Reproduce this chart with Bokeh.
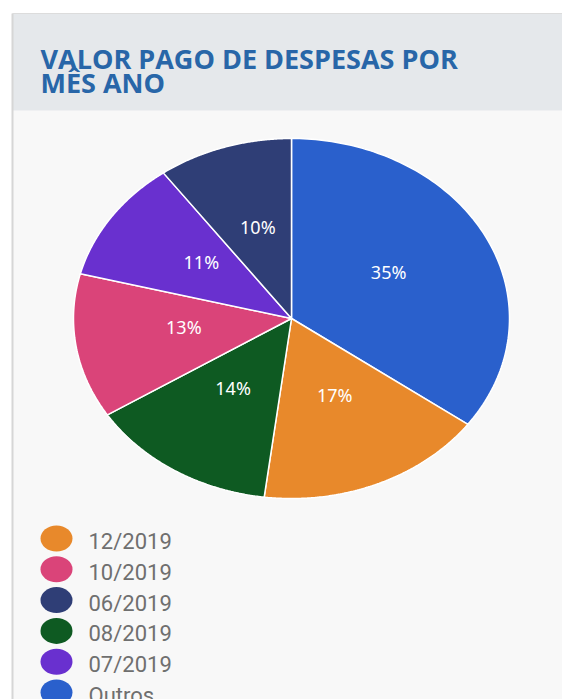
import numpy as np
from bokeh.plotting import figure
from bokeh.models import ColumnDataSource, Range1d
from bokeh.core.properties import value
from bokeh.embed import file_html
from bokeh.resources import INLINE

# ---- data ----
slice_labels = ["Outros", "12/2019", "08/2019", "10/2019", "07/2019", "06/2019"]
slice_values = [35, 17, 14, 13, 11, 10]
slice_colors = ["#2a60cc", "#e8892b", "#0e5a22", "#da4479", "#6930cf", "#2f3e76"]

legend_labels = ["12/2019", "10/2019", "06/2019", "08/2019", "07/2019", "Outros"]

title_lines = ["VALOR PAGO DE DESPESAS POR", "MÊS ANO"]

# ---- layout (screen-pixel coordinates, y downward) ----
W, H = 562, 699
p = figure(width=W, height=H, output_backend="svg", toolbar_location=None,
           x_range=Range1d(0, W), y_range=Range1d(H, 0),
           min_border=0, outline_line_color=None, background_fill_color="white",
           border_fill_color="white")
p.axis.visible = False
p.grid.visible = False

# card panel + header
p.quad(left=[12], right=[W], top=[13], bottom=[H], fill_color="#f8f8f8", line_color=None)
p.quad(left=[12], right=[W], top=[13], bottom=[110], fill_color="#e5e8eb", line_color=None)
p.segment(x0=[12], y0=[13], x1=[12], y1=[H], line_color="#d6d6d6", line_width=2)
p.segment(x0=[12], y0=[13], x1=[W], y1=[13], line_color="#dcdcdc", line_width=1)

# title
p.text(x=[40, 40], y=[58, 82], text=title_lines, text_font=value("Open Sans"),
       text_font_style="bold", text_font_size="27px", text_color="#2866a8",
       text_baseline="alphabetic")

# pie (ellipse as in the reference)
cx, cy, rx, ry = 291, 318, 218, 180
vals = np.array(slice_values, dtype=float)
frac = vals / vals.sum()
ends = np.cumsum(frac) * 2 * np.pi
starts = ends - frac * 2 * np.pi
xs, ys, lx, ly, txt = [], [], [], [], []
for s, e, f in zip(starts, ends, frac):
    t = np.linspace(s, e, 120)
    xs.append([cx] + list(cx + rx * np.sin(t)) + [cx])
    ys.append([cy] + list(cy - ry * np.cos(t)) + [cy])
    m = (s + e) / 2
    lx.append(cx + 0.5 * rx * np.sin(m))
    ly.append(cy - 0.5 * ry * np.cos(m))
    txt.append(f"{round(f * 100):.0f}%")

src = ColumnDataSource(dict(xs=xs, ys=ys, color=slice_colors, name=slice_labels,
                            lx=lx, ly=ly, txt=txt))
p.patches("xs", "ys", source=src, fill_color="color", line_color="white", line_width=1.5)
p.text("lx", "ly", text="txt", source=src, text_color="white", text_font=value("Noto Sans"),
       text_font_size="18px", text_align="center", text_baseline="middle", y_offset=-6)

# legend
color_of = dict(zip(slice_labels, slice_colors))
row0, step = 538, 30.8
leg_y = [row0 + i * step for i in range(len(legend_labels))]
leg_src = ColumnDataSource(dict(y=leg_y, x=[56] * len(leg_y), tx=[88] * len(leg_y),
                                label=legend_labels,
                                color=[color_of[l] for l in legend_labels]))
p.ellipse(x="x", y="y", width=32, height=26, source=leg_src, fill_color="color", line_color=None)
p.text(x="tx", y="y", text="label", source=leg_src, text_color="#6f6f6f",
       text_font=value("Roboto"), text_font_size="22px", text_baseline="middle", y_offset=3)

open("out.html", "w").write(file_html(p, INLINE))
